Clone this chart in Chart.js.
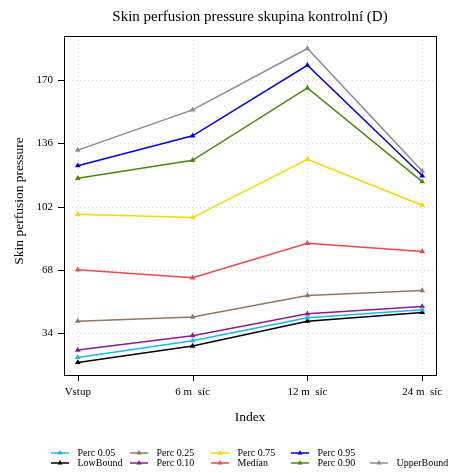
<!DOCTYPE html>
<html>
<head>
<meta charset="utf-8">
<script src="https://cdn.jsdelivr.net/npm/chart.js@4.4.0/dist/chart.umd.min.js"></script>
<style>
  html, body { margin: 0; padding: 0; background: #fff; }
  canvas { display: block; }
</style>
</head>
<body>
<canvas id="myChart" width="450" height="473"></canvas>
<script>
// data
var categories = ['Vstup', '6 m  síc', '12 m  síc', '24 m  síc'];
var yTicks = [34, 68, 102, 136, 170];

var perc05 = [20.9, 29.9, 42.2, 46.5];
var lowBound = [18.2, 27.0, 40.4, 45.1];
var perc25 = [40.4, 42.6, 54.2, 56.9];
var perc10 = [24.9, 32.6, 44.4, 48.3];
var perc75 = [97.9, 96.1, 127.4, 102.7];
var median = [68.0, 63.7, 82.3, 77.8];
var perc95 = [124.0, 140.1, 178.0, 118.6];
var perc90 = [117.2, 126.9, 165.8, 115.4];
var upperBound = [132.4, 154.0, 187.0, 121.1];

var seriesNames = ['Perc 0.05', 'LowBound', 'Perc 0.25', 'Perc 0.10', 'Perc 0.75', 'Median', 'Perc 0.95', 'Perc 0.90', 'UpperBound'];
var seriesData = [perc05, lowBound, perc25, perc10, perc75, median, perc95, perc90, upperBound];
var seriesColors = ['#1AB8F5', '#000000', '#94785C', '#8E1A96', '#FFD400', '#F04848', '#0000F0', '#4A8A08', '#8C8C8C'];
// legend slots (column, row) as in the reference
var legendSlots = [[0, 0], [0, 1], [1, 0], [1, 1], [2, 0], [2, 1], [3, 0], [3, 1], [4, 1]];

var serif = "'Liberation Serif', 'DejaVu Serif', serif";

var datasets = seriesData.map(function (vals, i) {
  return {
    label: seriesNames[i],
    data: vals.map(function (v, j) { return { x: j + 1, y: v }; }),
    borderColor: seriesColors[i],
    backgroundColor: seriesColors[i],
    borderWidth: 1.5,
    pointStyle: 'triangle',
    pointRadius: 3.3,
    pointBorderWidth: 0,
    tension: 0
  };
});

var decor = {
  id: 'decor',
  beforeDatasetsDraw: function (chart) {
    var ctx = chart.ctx, a = chart.chartArea;
    var xs = chart.scales.x, ys = chart.scales.y;
    ctx.save();
    ctx.strokeStyle = '#d6d6d6';
    ctx.lineWidth = 1;
    ctx.setLineDash([1, 3]);
    yTicks.forEach(function (v) {
      var y = Math.round(ys.getPixelForValue(v)) + 0.5;
      ctx.beginPath(); ctx.moveTo(a.left, y); ctx.lineTo(a.right, y); ctx.stroke();
    });
    categories.forEach(function (c, j) {
      var x = Math.round(xs.getPixelForValue(j + 1)) + 0.5;
      ctx.beginPath(); ctx.moveTo(x, a.top); ctx.lineTo(x, a.bottom); ctx.stroke();
    });
    ctx.restore();
  },
  afterDraw: function (chart) {
    var ctx = chart.ctx, a = chart.chartArea;
    var xs = chart.scales.x, ys = chart.scales.y;
    ctx.save();
    ctx.strokeStyle = '#000';
    ctx.lineWidth = 1;
    ctx.strokeRect(Math.round(a.left) + 0.5, Math.round(a.top) + 0.5,
      Math.round(a.right - a.left), Math.round(a.bottom - a.top));
    // tick marks
    yTicks.forEach(function (v) {
      var y = Math.round(ys.getPixelForValue(v)) + 0.5;
      ctx.beginPath(); ctx.moveTo(a.left - 6, y); ctx.lineTo(a.left, y); ctx.stroke();
    });
    categories.forEach(function (c, j) {
      var x = Math.round(xs.getPixelForValue(j + 1)) + 0.5;
      ctx.beginPath(); ctx.moveTo(x, a.bottom); ctx.lineTo(x, a.bottom + 6); ctx.stroke();
    });

    // titles
    ctx.fillStyle = '#000';
    ctx.textAlign = 'center';
    ctx.textBaseline = 'middle';
    ctx.font = '15px ' + serif;
    ctx.fillText('Skin perfusion pressure skupina kontrolní (D)', (a.left + a.right) / 2, 17);
    ctx.font = '13.5px ' + serif;
    ctx.fillText('Index', (a.left + a.right) / 2, 417);
    ctx.save();
    ctx.translate(19, 201);
    ctx.rotate(-Math.PI / 2);
    ctx.fillText('Skin perfusion pressure', 0, 0);
    ctx.restore();

    // legend
    var colX = [51, 130, 211, 291, 370];
    var rowY = [453, 463];
    ctx.font = '10px ' + serif;
    ctx.textAlign = 'left';
    seriesNames.forEach(function (name, i) {
      var x0 = colX[legendSlots[i][0]], y0 = rowY[legendSlots[i][1]];
      ctx.strokeStyle = seriesColors[i];
      ctx.fillStyle = seriesColors[i];
      ctx.lineWidth = 1.5;
      ctx.beginPath(); ctx.moveTo(x0, y0); ctx.lineTo(x0 + 18, y0); ctx.stroke();
      var cx = x0 + 9, r = 3;
      ctx.beginPath();
      ctx.moveTo(cx, y0 - r);
      ctx.lineTo(cx + r * 0.866, y0 + r * 0.5);
      ctx.lineTo(cx - r * 0.866, y0 + r * 0.5);
      ctx.closePath(); ctx.fill();
      ctx.fillStyle = '#000';
      ctx.fillText(name, x0 + 26.5, y0 + 0.5);
    });
    ctx.restore();
  }
};

new Chart(document.getElementById('myChart'), {
  type: 'line',
  data: { datasets: datasets },
  options: {
    responsive: false,
    animation: false,
    layout: { padding: { left: 0, right: 14, top: 36, bottom: 0 } },
    plugins: { legend: { display: false }, title: { display: false }, tooltip: { enabled: false } },
    scales: {
      x: {
        type: 'linear',
        min: 0.88,
        max: 4.12,
        afterFit: function (s) { s.height = 98; s.paddingLeft = 0; s.paddingRight = 0; },
        afterBuildTicks: function (s) {
          s.ticks = categories.map(function (c, j) { return { value: j + 1 }; });
        },
        grid: { display: false, drawTicks: false },
        border: { display: false },
        ticks: {
          padding: 11,
          color: '#000',
          font: { family: serif, size: 11 },
          maxRotation: 0,
          autoSkip: false,
          callback: function (v) { return categories[v - 1]; }
        }
      },
      y: {
        min: 11.45,
        max: 193.75,
        afterFit: function (s) { s.width = 64; s.paddingTop = 0; s.paddingBottom = 0; },
        afterBuildTicks: function (s) {
          s.ticks = yTicks.map(function (v) { return { value: v }; });
        },
        grid: { display: false, drawTicks: false },
        border: { display: false },
        ticks: {
          padding: 11,
          color: '#000',
          font: { family: serif, size: 11 }
        }
      }
    }
  },
  plugins: [decor]
});
</script>
</body>
</html>
